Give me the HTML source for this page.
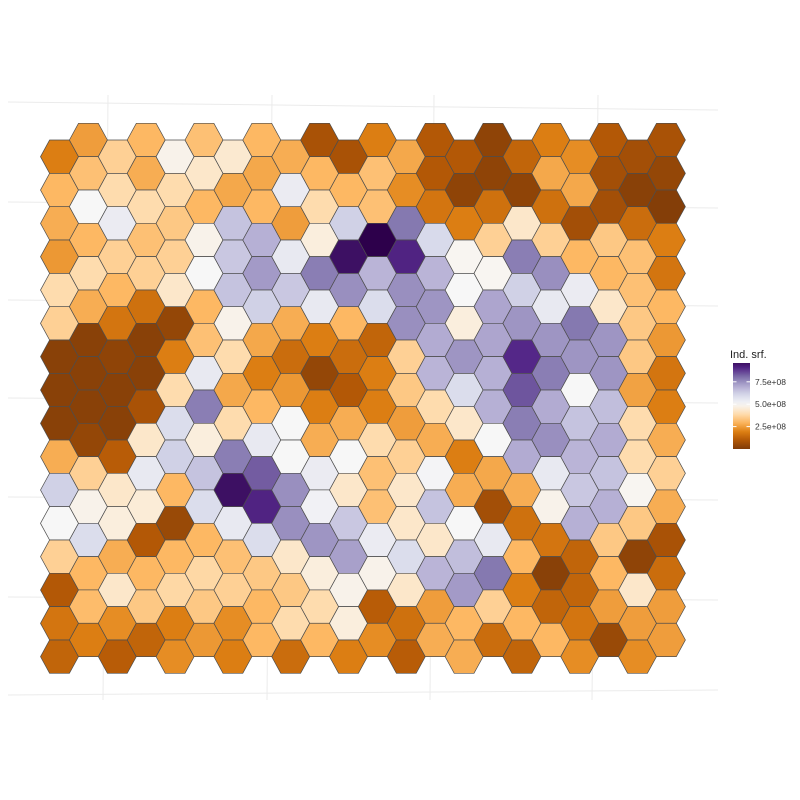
<!DOCTYPE html>
<html><head><meta charset="utf-8"><style>
html,body{margin:0;padding:0;background:#fff;}
svg{display:block;font-family:"Liberation Sans",sans-serif;}
</style></head><body>
<svg id="chart" width="800" height="800" viewBox="0 0 800 800">
  <g id="grid" stroke="#ebebeb" stroke-width="1" fill="none">
    <line x1="8" y1="102" x2="718" y2="110"/>
    <line x1="8" y1="202" x2="718" y2="208"/>
    <line x1="8" y1="300" x2="718" y2="306"/>
    <line x1="8" y1="398" x2="718" y2="403"/>
    <line x1="8" y1="497" x2="718" y2="500"/>
    <line x1="8" y1="597" x2="718" y2="600"/>
    <line x1="8" y1="695" x2="718" y2="690"/>
    <line x1="108" y1="95" x2="103" y2="700"/>
    <line x1="272" y1="95" x2="267" y2="700"/>
    <line x1="434" y1="95" x2="430" y2="700"/>
    <line x1="598" y1="95" x2="592" y2="700"/>
  </g>
  <g id="hexes"></g>
  <g id="legend">
    <text x="730" y="358" font-size="11" fill="#222">Ind. srf.</text>
    <defs><linearGradient id="cbgrad" x1="0" y1="1" x2="0" y2="0"></linearGradient></defs>
    <rect x="733" y="363" width="17" height="86" fill="url(#cbgrad)"/>
    <g id="cbticks"></g>
  </g>
</svg>
<script>
// Data: cell values (×1e8) per hex column, rows top→bottom
const columnIndex = [0,1,2,3,4,5,6,7,8,9,10,11,12,13,14,15,16,17,18,19,20,21];
const col0  = [1.9,3.0,2.8,2.4,3.9,3.6,0.2,0.2,0.2,2.8,6.2,5.0,3.6,1.0,1.7,1.3];
const col1  = [2.5,3.2,5.0,3.0,3.9,2.8,0.2,0.2,0.2,0.4,3.6,4.8,5.9,3.0,3.1,1.9];
const col2  = [3.6,3.9,5.4,3.6,3.0,1.7,0.3,0.2,0.2,1.1,4.3,4.6,2.8,4.3,2.2,1.1];
const col3  = [3.0,2.8,3.9,3.2,3.6,1.6,0.2,0.2,0.8,4.3,5.5,4.5,1.0,3.0,3.4,1.3];
const col4  = [4.8,3.9,3.4,3.6,4.3,0.4,1.9,3.9,5.9,6.2,3.0,0.5,3.0,3.8,1.9,2.2];
const col5  = [3.2,4.3,3.0,4.8,5.0,3.0,3.2,5.5,7.8,4.6,6.5,5.9,3.0,3.8,3.4,2.4];
const col6  = [4.4,2.7,6.5,6.4,6.5,4.8,3.9,2.7,3.9,7.8,9.6,5.5,3.2,3.6,2.2,1.9];
const col7  = [3.0,2.7,3.0,6.9,7.3,6.2,2.7,1.9,3.0,5.5,8.3,9.1,5.9,3.4,3.0,3.0];
const col8  = [2.8,5.4,2.5,5.5,6.4,2.8,1.5,2.4,5.0,5.0,7.5,7.5,4.3,3.4,3.9,1.5];
const col9  = [0.8,3.0,3.9,4.6,7.8,5.5,1.9,0.4,1.9,2.8,5.4,5.2,7.4,4.6,3.9,3.0];
const col10 = [0.8,3.0,6.2,9.6,7.5,3.0,1.5,1.0,2.8,5.0,4.3,6.4,7.2,4.8,4.6,1.9];
const col11 = [1.9,3.2,3.2,10,6.8,5.9,1.3,1.9,1.9,3.9,3.2,3.2,5.4,4.8,1.1,2.2];
const col12 = [2.7,2.2,7.9,9.1,7.5,7.5,3.6,3.4,2.5,3.6,4.3,4.3,5.9,4.3,1.6,1.1];
const col13 = [1.0,1.0,1.7,6.0,6.8,7.4,7.0,6.8,3.9,2.8,5.1,6.5,4.3,6.8,2.5,2.8];
const col14 = [1.0,0.3,1.9,4.9,5.0,4.6,7.4,5.9,4.3,1.9,2.8,5.0,6.6,7.3,3.0,2.8];
const col15 = [0.3,0.3,1.6,3.6,4.9,7.1,7.1,6.9,6.9,5.0,2.7,0.7,5.5,7.9,3.6,1.5];
const col16 = [1.3,0.3,4.3,7.8,6.2,7.4,9.0,8.4,7.8,7.0,2.8,1.6,3.0,1.9,3.0,1.3];
const col17 = [1.9,2.7,1.6,3.6,7.5,5.5,7.4,7.8,7.0,7.5,5.5,4.8,1.7,0.2,1.3,3.0];
const col18 = [2.2,2.7,0.7,3.0,5.4,7.9,7.4,5.0,6.5,6.8,6.4,6.9,1.3,1.3,1.7,2.2];
const col19 = [1.0,0.7,0.7,3.4,3.0,4.3,7.4,7.4,6.6,7.0,6.5,6.9,3.4,3.0,2.5,0.5];
const col20 = [0.7,0.2,1.5,3.2,3.2,3.4,3.4,2.6,3.9,3.9,4.9,3.4,0.3,4.3,2.5,2.2];
const col21 = [0.8,0.4,0.1,1.9,1.7,3.0,2.4,1.7,1.9,2.8,3.6,2.8,0.8,1.5,2.5,2.5];
const legendTicks = [2.5,5.0,7.5];
const legendLabels = ["2.5e+08","5.0e+08","7.5e+08"];
const legendMin = 0, legendMax = 9.6;

const columns = [col0,col1,col2,col3,col4,col5,col6,col7,col8,col9,col10,col11,col12,col13,col14,col15,col16,col17,col18,col19,col20,col21];
const NS = "http://www.w3.org/2000/svg";
const stops = ["#7f3b08","#b35806","#e08214","#fdb863","#fee0b6","#f7f7f7","#d8daeb","#b2abd2","#8073ac","#542788","#2d004b"];
function hex2rgb(h){return [1,3,5].map(i=>parseInt(h.substr(i,2),16));}
function colorOf(v){
  let t=Math.max(0,Math.min(1,v/10))*(stops.length-1);
  let i=Math.min(Math.floor(t),stops.length-2), f=t-i;
  let a=hex2rgb(stops[i]), b=hex2rgb(stops[i+1]);
  return "rgb("+a.map((x,k)=>Math.round(x+(b[k]-x)*f)).join(",")+")";
}
// axis functions
function xPos(c){return 59.5+28.9*c;}
function yPos(c,r){return (c%2?140:156.7)+33.33*r;}
const HW=19, HF=9.9, HH=16.67;
const g=document.getElementById("hexes");
columnIndex.forEach(c=>{
  columns[c].forEach((v,r)=>{
    const cx=xPos(c), cy=yPos(c,r);
    const p=document.createElementNS(NS,"polygon");
    const pts=[[cx-HW,cy],[cx-HF,cy-HH],[cx+HF,cy-HH],[cx+HW,cy],[cx+HF,cy+HH],[cx-HF,cy+HH]];
    p.setAttribute("points",pts.map(q=>q[0].toFixed(2)+","+q[1].toFixed(2)).join(" "));
    p.setAttribute("fill",colorOf(v));
    p.setAttribute("stroke","#4d4d4d");
    p.setAttribute("stroke-width","0.7");
    
    
    g.appendChild(p);
  });
});
// colorbar
const grad=document.getElementById("cbgrad");
for(let i=0;i<=20;i++){
  const v=legendMin+(legendMax-legendMin)*i/20;
  const s=document.createElementNS(NS,"stop");
  s.setAttribute("offset",(i/20*100)+"%");
  s.setAttribute("stop-color",colorOf(v));
  grad.appendChild(s);
}
function cbY(v){return 449-(v-legendMin)/(legendMax-legendMin)*86;}
const tg=document.getElementById("cbticks");
legendTicks.forEach((v,i)=>{
  const y=cbY(v);
  const l1=document.createElementNS(NS,"line");
  l1.setAttribute("x1",733);l1.setAttribute("x2",736.5);l1.setAttribute("y1",y);l1.setAttribute("y2",y);
  l1.setAttribute("stroke","#fff");l1.setAttribute("stroke-width","1");
  
  
  tg.appendChild(l1);
  const l2=document.createElementNS(NS,"line");
  l2.setAttribute("x1",746.5);l2.setAttribute("x2",750);l2.setAttribute("y1",y);l2.setAttribute("y2",y);
  l2.setAttribute("stroke","#fff");l2.setAttribute("stroke-width","1");
  
  
  tg.appendChild(l2);
  const t=document.createElementNS(NS,"text");
  t.setAttribute("x",755);t.setAttribute("y",y+3);
  t.setAttribute("font-size","8.5");t.setAttribute("fill","#333");
  t.textContent=legendLabels[i];
  
  
  tg.appendChild(t);
});
</script>
</body></html>
